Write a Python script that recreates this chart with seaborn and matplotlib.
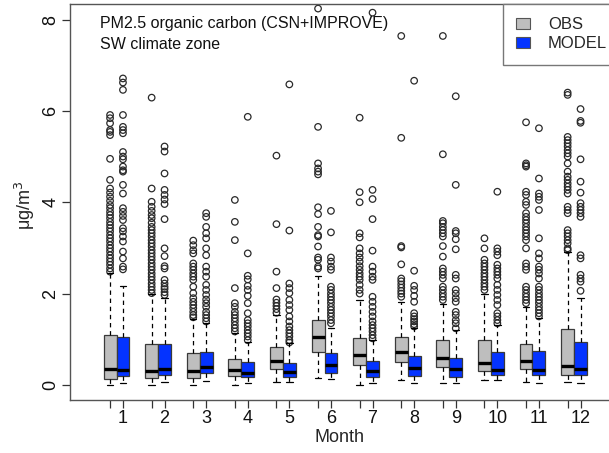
import numpy as np
import pandas as pd
import matplotlib
matplotlib.use("Agg")
import matplotlib.pyplot as plt
import seaborn as sns
from matplotlib.patches import Patch

# ---------------- data ----------------
months = list(range(1, 13))
month_labels = [str(m) for m in months]

obs_whislo = [0.00, 0.00, 0.00, 0.00, 0.06, 0.16, 0.00, 0.11, 0.04, 0.11, 0.07, 0.07]
obs_q1     = [0.13, 0.16, 0.16, 0.20, 0.34, 0.73, 0.44, 0.51, 0.40, 0.31, 0.34, 0.22]
obs_med    = [0.34, 0.31, 0.31, 0.33, 0.53, 1.06, 0.66, 0.73, 0.58, 0.47, 0.53, 0.42]
obs_q3     = [1.09, 0.89, 0.69, 0.57, 0.82, 1.42, 1.02, 1.04, 0.98, 0.98, 0.89, 1.23]
obs_whishi = [2.44, 1.98, 1.44, 1.13, 1.53, 2.39, 1.86, 1.82, 1.77, 2.00, 1.71, 2.90]

model_whislo = [0.05, 0.06, 0.09, 0.05, 0.06, 0.12, 0.05, 0.04, 0.04, 0.11, 0.05, 0.05]
model_q1     = [0.20, 0.22, 0.26, 0.17, 0.17, 0.27, 0.18, 0.20, 0.18, 0.22, 0.22, 0.22]
model_med    = [0.33, 0.34, 0.40, 0.26, 0.28, 0.44, 0.31, 0.36, 0.35, 0.33, 0.33, 0.34]
model_q3     = [1.04, 0.89, 0.71, 0.50, 0.49, 0.69, 0.53, 0.64, 0.60, 0.71, 0.74, 0.93]
model_whishi = [2.17, 1.90, 1.35, 0.95, 0.91, 1.24, 0.98, 1.24, 1.20, 1.31, 1.46, 1.90]

obs_fliers = [
    [5.91, 5.84, 5.73, 5.58, 5.54, 5.47, 4.95, 4.49, 4.30, 4.21, 4.12, 4.03, 3.94, 3.87,
     3.79, 3.72, 3.65, 3.57, 3.50, 3.43, 3.36, 3.28, 3.21, 3.14, 3.06, 2.99, 2.92, 2.84,
     2.77, 2.70, 2.63, 2.55, 2.48],
    [6.29, 4.30, 4.01, 3.90, 3.81, 3.72, 3.65, 3.55, 3.46, 3.39, 3.32, 3.25, 3.17, 3.10,
     3.03, 2.95, 2.88, 2.81, 2.74, 2.66, 2.59, 2.52, 2.44, 2.37, 2.30, 2.22, 2.15, 2.08, 2.01],
    [3.16, 3.06, 2.95, 2.88, 2.66, 2.59, 2.52, 2.44, 2.37, 2.30, 2.15, 2.01, 1.90, 1.82,
     1.75, 1.68, 1.60, 1.53, 1.48],
    [4.05, 3.57, 3.17, 2.12, 1.79, 1.71, 1.60, 1.53, 1.46, 1.39, 1.31, 1.24, 1.17],
    [5.02, 3.52, 2.48, 2.12, 1.87, 1.80, 1.73, 1.66, 1.58],
    [8.24, 5.65, 4.85, 4.74, 4.67, 4.61, 3.89, 3.74, 3.46, 3.28, 3.25, 3.03, 2.79, 2.74,
     2.59, 2.55],
    [5.85, 4.22, 4.00, 3.32, 3.23, 2.99, 2.88, 2.79, 2.70, 2.60, 2.52, 2.44, 2.37, 2.30,
     2.19, 2.08, 2.00],
    [7.64, 5.41, 3.04, 3.01, 2.64, 2.33, 2.27, 2.20, 2.13, 2.06, 2.00, 1.93],
    [7.64, 5.05, 3.59, 3.54, 3.46, 3.39, 3.32, 3.25, 3.04, 2.81, 2.55, 2.48, 2.41, 2.33,
     2.15, 2.08, 2.00, 1.93, 1.86],
    [3.21, 2.99, 2.74, 2.66, 2.59, 2.52, 2.44, 2.37, 2.30, 2.22, 2.15, 2.08],
    [5.75, 4.85, 4.81, 4.78, 4.23, 4.16, 4.01, 3.94, 3.76, 3.68, 3.61, 3.54, 3.46, 3.39,
     3.32, 3.25, 3.17, 2.99, 2.66, 2.59, 2.52, 2.15, 2.08, 2.00, 1.93, 1.86, 1.79],
    [6.40, 6.35, 5.43, 5.36, 5.29, 5.22, 5.14, 5.07, 5.00, 4.85, 4.67, 4.56, 4.49, 4.41,
     4.34, 4.27, 4.19, 3.90, 3.83, 3.76, 3.39, 3.32, 3.25, 3.17, 3.10, 2.99, 2.95],
]

model_fliers = [
    [6.71, 6.62, 6.46, 5.91, 5.65, 5.58, 5.51, 5.10, 5.00, 4.94, 4.78, 4.70, 4.67, 4.38,
     4.19, 3.87, 3.79, 3.70, 3.61, 3.43, 3.36, 3.25, 3.14, 2.92, 2.77, 2.59, 2.53],
    [5.22, 5.11, 4.63, 4.27, 4.16, 4.06, 3.96, 3.63, 2.99, 2.82, 2.60, 2.55, 2.30, 2.22,
     2.15, 2.10, 2.03, 1.97],
    [3.76, 3.68, 3.46, 3.32, 3.21, 2.99, 2.84, 2.59, 2.48, 2.37, 2.19, 2.08, 1.97, 1.87,
     1.79, 1.71, 1.60, 1.53, 1.46, 1.39],
    [5.87, 2.88, 2.39, 2.31, 2.17, 2.08, 1.95, 1.79, 1.57, 1.42, 1.35, 1.28, 1.20, 1.13,
     1.06, 0.98],
    [6.58, 3.38, 2.22, 2.12, 2.01, 1.86, 1.75, 1.64, 1.50, 1.39, 1.28, 1.20, 1.13, 1.06,
     0.98, 0.93],
    [3.81, 3.34, 2.79, 2.70, 2.59, 2.52, 2.15, 2.08, 2.00, 1.93, 1.86, 1.79, 1.71, 1.64,
     1.57, 1.50, 1.42, 1.35],
    [8.15, 4.27, 4.07, 3.63, 2.94, 2.59, 2.48, 2.37, 2.30, 1.93, 1.82, 1.71, 1.60, 1.50,
     1.39, 1.31, 1.24, 1.17, 1.09, 1.02],
    [6.66, 2.50, 2.17, 2.08, 1.95, 1.82, 1.57, 1.50, 1.44, 1.39, 1.33, 1.28],
    [6.32, 4.38, 3.37, 3.32, 3.19, 2.97, 2.41, 2.33, 2.08, 2.00, 1.90, 1.82, 1.60, 1.53,
     1.42, 1.35, 1.24],
    [4.23, 2.99, 2.92, 2.84, 2.63, 2.55, 2.48, 2.41, 2.33, 2.19, 2.08, 1.97, 1.86, 1.75,
     1.57, 1.50, 1.42, 1.35],
    [5.62, 4.52, 4.19, 4.12, 4.05, 3.83, 3.21, 2.88, 2.77, 2.59, 2.52, 2.44, 2.33, 2.15,
     2.08, 2.00, 1.93, 1.86, 1.79, 1.71, 1.64, 1.57, 1.50],
    [6.04, 5.78, 5.74, 4.94, 4.45, 4.21, 3.98, 3.90, 3.83, 3.76, 3.68, 2.84, 2.77, 2.41,
     2.33, 2.26, 2.06],
]

series_names = ["OBS", "MODEL"]
title_lines = ["PM2.5 organic carbon (CSN+IMPROVE)", "SW climate zone"]
y_ticks = [0, 2, 4, 6, 8]

# ---------------- style ----------------
sns.set_style("white")
plt.rcParams["font.family"] = ["Liberation Sans", "DejaVu Sans"]

OBS_COLOR = "#bebebe"
MODEL_COLOR = "#0433ff"
EDGE = "#3a3a3a"
offset = 0.155
box_w = 0.31

fig = plt.figure(figsize=(6.09, 4.53), dpi=100)
AX_W = 550.6
AX_H = 396.0
ax = fig.add_axes([70 / 609, 1 - 400 / 453, AX_W / 609, AX_H / 453])

def make_stats(wl, q1, med, q3, wh):
    return [dict(whislo=a, q1=b, med=c, q3=d, whishi=e, fliers=[])
            for a, b, c, d, e in zip(wl, q1, med, q3, wh)]

obs_pos = [m - offset for m in months]
mod_pos = [m + offset for m in months]

common = dict(widths=box_w, showfliers=False, patch_artist=True, manage_ticks=False,
              capwidths=box_w * 0.5,
              medianprops=dict(color="black", lw=2.4, solid_capstyle="butt"),
              whiskerprops=dict(color="black", lw=0.9, linestyle=(0, (3.5, 3))),
              capprops=dict(color="black", lw=0.9))

ax.bxp(make_stats(obs_whislo, obs_q1, obs_med, obs_q3, obs_whishi), positions=obs_pos,
       boxprops=dict(facecolor=OBS_COLOR, edgecolor=EDGE, lw=0.9), **common)
ax.bxp(make_stats(model_whislo, model_q1, model_med, model_q3, model_whishi), positions=mod_pos,
       boxprops=dict(facecolor=MODEL_COLOR, edgecolor=EDGE, lw=0.9), **common)

# outliers through seaborn
rows = []
for m, fl in zip(months, obs_fliers):
    rows += [dict(pos=m - offset, value=v, src="OBS") for v in fl]
for m, fl in zip(months, model_fliers):
    rows += [dict(pos=m + offset, value=v, src="MODEL") for v in fl]
fdf = pd.DataFrame(rows)
sns.scatterplot(data=fdf, x="pos", y="value", ax=ax, marker="o", s=22,
                facecolor="none", edgecolor="#2a2a2a", linewidth=0.9, legend=False,
                clip_on=False)

ax.set_xlim(-0.118, 13.118)
ax.set_ylim(-0.33, 8.34)

# ticks
all_pos = []
all_lab = []
for m in months:
    all_pos += [m - offset, m + offset]
    all_lab += ["", str(m)]
ax.set_xticks(all_pos)
ax.set_xticklabels(all_lab, fontsize=13)
ax.set_yticks(y_ticks)
ax.set_yticklabels([str(t) for t in y_ticks], fontsize=13, rotation=90, va="center")
ax.tick_params(axis="both", direction="out", length=6, width=0.9, color="#333333",
               labelcolor="#111111", bottom=True, left=True)
ax.tick_params(axis="x", pad=1.5)
ax.tick_params(axis="y", pad=1.5)

for sp in ax.spines.values():
    sp.set_color("#555555")
    sp.set_linewidth(1.0)
    sp.set_visible(True)

ax.set_xlabel("Month", fontsize=13)
ax.xaxis.label.set_va("center")
ax.xaxis.set_label_coords((339 - 70) / AX_W, -(438 - 400) / AX_H)
ax.set_ylabel("μg/m$^3$", fontsize=13)
ax.yaxis.label.set_va("center")
ax.yaxis.set_label_coords(-(70 - 25) / AX_W, (400 - 205) / AX_H)

ax.text((100 - 70) / AX_W, (400 - 24) / AX_H, title_lines[0], transform=ax.transAxes,
        fontsize=11.5, va="center", ha="left", color="#111111")
ax.text((100 - 70) / AX_W, (400 - 45) / AX_H, title_lines[1], transform=ax.transAxes,
        fontsize=11.5, va="center", ha="left", color="#111111")

handles = [Patch(facecolor=OBS_COLOR, edgecolor="#555555", lw=0.8),
           Patch(facecolor=MODEL_COLOR, edgecolor="#555555", lw=0.8)]
leg = ax.legend(handles, series_names, loc="upper left",
                bbox_to_anchor=((503 - 70) / AX_W, 0, 0.3, 1.0), mode="expand",
                fontsize=12, frameon=True, fancybox=False, borderaxespad=0,
                handlelength=0.8, handleheight=0.7, handletextpad=1.1,
                labelspacing=0.25, borderpad=0.8, framealpha=1)
leg.get_frame().set_edgecolor("#777777")
leg.get_frame().set_linewidth(1.0)
for h in leg.legend_handles:
    pass

fig.savefig("out.png", dpi=100)
